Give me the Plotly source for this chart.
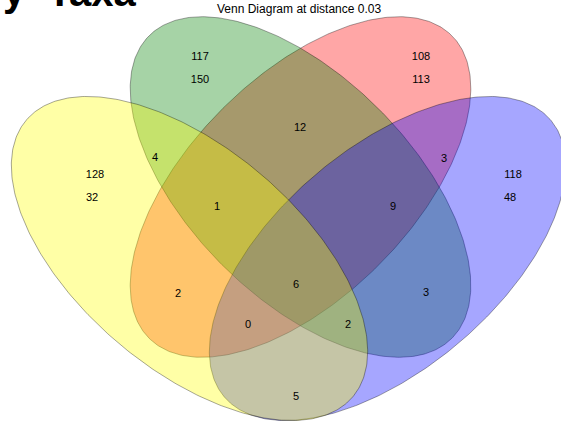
import numpy as np
import plotly.graph_objects as go

# ---- data ----
title_text = "Venn Diagram at distance 0.03"
header_text = "y\u00a0\u00a0Taxa"
set_names = ["A", "B", "C", "D"]
# region names and counts as printed in the picture
region_names = ["A", "A_2", "B", "B_2", "C", "C_2", "D", "D_2",
                "AB", "BC", "CD", "ABC", "BCD", "AC", "ABCD", "BD",
                "ABD", "ACD", "AD"]
region_counts = [128, 32, 117, 150, 108, 113, 118, 48,
                 4, 12, 3, 1, 9, 2, 6, 3,
                 0, 2, 5]

# ---- geometry / style (layout, not data) ----
W, H = 561, 423
ellipses = {  # cx, cy, a, b, angle(deg, image coords)
    "C": (300.5, 187.0, 214.0, 110.5, 135.0),
    "B": (300.5, 187.0, 214.0, 110.5, 45.0),
    "D": (387.5, 258.5, 214.0, 110.5, 139.7),
    "A": (189.5, 258.5, 214.0, 110.5, 40.3),
}
fills = {"A": "rgba(255,255,0,0.35)", "B": "rgba(0,128,0,0.35)",
         "C": "rgba(255,0,0,0.35)", "D": "rgba(0,0,255,0.35)"}
label_pos = {
    "A": (95, 175), "A_2": (92, 198), "B": (200, 57), "B_2": (200, 80),
    "C": (421, 57), "C_2": (421, 80), "D": (513, 175), "D_2": (510, 198),
    "AB": (155, 158), "BC": (300, 128), "CD": (444, 159), "ABC": (217, 207),
    "BCD": (393, 207), "AC": (178, 294), "ABCD": (296, 285), "BD": (426, 293),
    "ABD": (248, 325), "ACD": (348, 325), "AD": (296, 397),
}

fig = go.Figure()
t = np.linspace(0, 2 * np.pi, 400)
for name in ["C", "B", "D", "A"]:
    cx, cy, a, b, ang = ellipses[name]
    th = np.deg2rad(ang)
    x = cx + a * np.cos(t) * np.cos(th) - b * np.sin(t) * np.sin(th)
    y = cy + a * np.cos(t) * np.sin(th) + b * np.sin(t) * np.cos(th)
    fig.add_trace(go.Scatter(x=x, y=y, mode="lines", fill="toself",
                             fillcolor=fills[name],
                             line=dict(color="rgba(0,0,0,0.35)", width=1),
                             hoverinfo="skip", showlegend=False, name=name))

fig.add_trace(go.Scatter(
    x=[label_pos[r][0] for r in region_names],
    y=[label_pos[r][1] for r in region_names],
    mode="text", text=[str(c) for c in region_counts],
    textfont=dict(family="Liberation Sans, Arial", size=11, color="black"),
    hoverinfo="skip", showlegend=False))

fig.add_annotation(x=299, y=9, xref="x", yref="y", text=title_text,
                   showarrow=False, xanchor="center", yanchor="middle",
                   font=dict(family="Liberation Sans, Arial", size=12, color="black"))
fig.add_annotation(x=138, y=16, xref="x", yref="y", text="<b>" + header_text + "</b>",
                   showarrow=False, xanchor="right", yanchor="bottom",
                   font=dict(family="Liberation Sans, Arial", size=40, color="black"))

fig.update_layout(width=W, height=H, margin=dict(l=0, r=0, t=0, b=0),
                  paper_bgcolor="white", plot_bgcolor="white",
                  xaxis=dict(range=[0, W], visible=False, fixedrange=True),
                  yaxis=dict(range=[H, 0], visible=False, fixedrange=True))
fig.write_html("out.html", config={"displayModeBar": False, "staticPlot": True},
               post_script="document.body.style.margin='0';document.body.style.overflow='hidden';")
